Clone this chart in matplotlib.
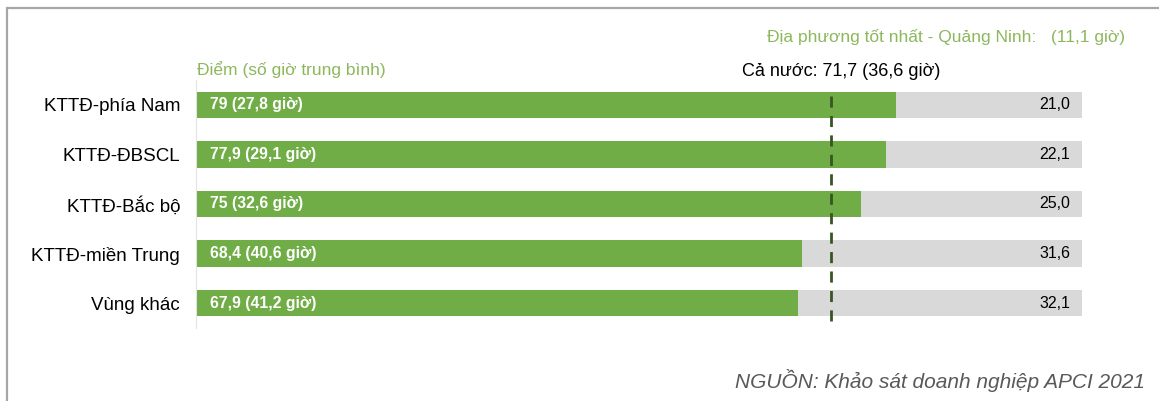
import matplotlib
matplotlib.use("Agg")
import matplotlib.pyplot as plt
from matplotlib.patches import Rectangle

plt.rcParams["font.family"] = ["Liberation Sans", "DejaVu Sans"]

regions = ["KTTĐ-phía Nam", "KTTĐ-ĐBSCL", "KTTĐ-Bắc bộ", "KTTĐ-miền Trung", "Vùng khác"]
scores = [79, 77.9, 75, 68.4, 67.9]
hours = [27.8, 29.1, 32.6, 40.6, 41.2]
national_score = 71.7
national_hours = 36.6
best_hours = 11.1
max_score = 100

GREEN = "#70AD47"
GREY = "#D9D9D9"
LABEL_GREEN = "#8CB85C"
DARK_GREEN = "#375623"


def vn(x, fmt="{:g}"):
    return fmt.format(x).replace(".", ",")


fig = plt.figure(figsize=(11.59, 4.01), dpi=100)
ax = fig.add_axes([196 / 1159, 1 - 328 / 401, 886 / 1159, 248 / 401])

ypos = list(range(len(regions)))
gaps = [max_score - s for s in scores]
ax.barh(ypos, scores, height=0.53, color=GREEN, zorder=2)
ax.barh(ypos, gaps, left=scores, height=0.53, color=GREY, zorder=2)

for y, s, h, g in zip(ypos, scores, hours, gaps):
    ax.text(1.6, y, f"{vn(s)} ({vn(h, '{:.1f}')} giờ)", color="white",
            fontsize=11.3, fontweight="bold", va="center", ha="left", zorder=3)
    ax.text(max_score - 1.3, y, vn(g, "{:.1f}"), color="black",
            fontsize=11.5, va="center", ha="right", zorder=3)

ax.axvline(national_score, ymin=0.03, ymax=0.94, color=DARK_GREEN,
           linestyle=(0, (4, 3)), linewidth=2, zorder=4)

ax.set_xlim(0, max_score)
ax.set_ylim(len(regions) - 0.5, -0.5)
ax.set_yticks(ypos)
ax.set_yticklabels(regions, fontsize=13.5)
ax.tick_params(axis="y", length=0, pad=11.5)
ax.set_xticks([])
for side in ["top", "right", "bottom"]:
    ax.spines[side].set_visible(False)
ax.spines["left"].set_color("#E3E3E3")

fig.text(197 / 1159, 1 - 70 / 401, "Điểm (số giờ trung bình)", color=LABEL_GREEN,
         fontsize=12.5, va="center", ha="left")
fig.text(841 / 1159, 1 - 72 / 401,
         f"Cả nước: {vn(national_score)} ({vn(national_hours)} giờ)",
         color="black", fontsize=13, va="center", ha="center")
fig.text(1125 / 1159, 1 - 37 / 401,
         f"Địa phương tốt nhất - Quảng Ninh:   ({vn(best_hours)} giờ)",
         color=LABEL_GREEN, fontsize=12.5, va="center", ha="right")
fig.text(1145 / 1159, 1 - 381 / 401, "NGUỒN: Khảo sát doanh nghiệp APCI 2021",
         color="#595959", fontsize=15, style="italic", va="center", ha="right")

# outer frame (top and left edges only are visible)
fig.add_artist(Rectangle((7 / 1159, -0.2), 1.2, 1.2 - 8 / 401,
                         transform=fig.transFigure, fill=False,
                         edgecolor="#A6A6A6", linewidth=1.6))

fig.savefig("out.png", dpi=100)
